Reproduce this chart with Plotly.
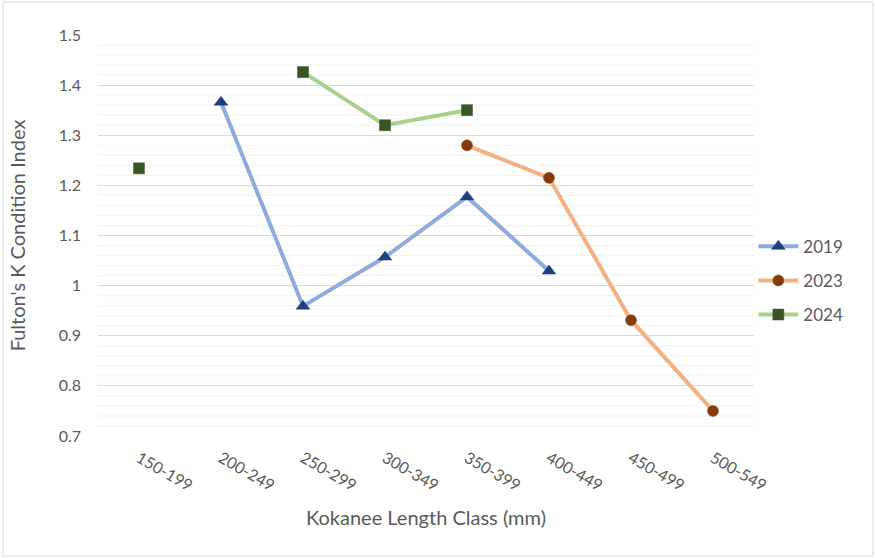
import plotly.graph_objects as go

# Length classes (mm) and Fulton's K by survey year
length_classes = ["150-199", "200-249", "250-299", "300-349",
                  "350-399", "400-449", "450-499", "500-549"]
k_2019 = [None, 1.366, 0.959, 1.057, 1.177, 1.029, None, None]
k_2023 = [None, None, None, None, 1.280, 1.215, 0.931, 0.750]
k_2024 = [1.234, None, 1.426, 1.320, 1.350, None, None, None]

FONT = "Lato, 'Open Sans', sans-serif"
TXT = "#595959"

fig = go.Figure()

series = [
    ("2019", k_2019, "#8FAADC", "#1F3F7F", "triangle-up", 12),
    ("2023", k_2023, "#F4B183", "#843C0C", "circle", 11),
    ("2024", k_2024, "#A9D18E", "#375623", "square", 11),
]
for name, vals, line_col, mark_col, symbol, size in series:
    fig.add_trace(go.Scatter(
        x=length_classes, y=vals, name=name, legendgroup=name,
        mode="lines+markers", connectgaps=False,
        line=dict(color=line_col, width=4),
        marker=dict(symbol=symbol, size=size, color=mark_col,
                    line=dict(color=mark_col, width=0.5)),
    ))

# minor gridlines every 0.02 drawn as shapes beneath the traces
for i in range(40):
    v = 0.7 + i * 0.02
    if i % 5 == 0:
        continue
    fig.add_shape(type="line", xref="paper", yref="y", x0=0, x1=1, y0=v, y1=v,
                  line=dict(color="#F0F0F0", width=1), layer="below")

# thin outer border around the chart
L, R, T, B = 98, 121, 35, 122
W, H = 875, 558
pw, ph = W - L - R, H - T - B
fig.add_shape(type="rect", xref="paper", yref="paper",
              x0=(3 - L) / pw, x1=(873 - L) / pw,
              y0=(H - 556 - B) / ph, y1=(H - 2 - B) / ph,
              line=dict(color="#D9D9D9", width=1), layer="below")

fig.update_layout(
    width=W, height=H,
    margin=dict(l=L, r=R, t=T, b=B),
    paper_bgcolor="white", plot_bgcolor="white",
    font=dict(family=FONT, color=TXT, size=16),
    showlegend=True,
    legend=dict(x=0.999, xanchor="left", y=0.387, yanchor="middle",
                font=dict(size=17, color=TXT), itemwidth=40,
                tracegroupgap=9, bgcolor="rgba(0,0,0,0)"),
    xaxis=dict(
        type="category", categoryorder="array", categoryarray=length_classes,
        range=[-0.5, len(length_classes) - 0.5],
        tickangle=30, tickfont=dict(size=16, color=TXT),
        ticklabelstandoff=9,
        showgrid=False, zeroline=False, showline=False, ticks="",
        title=dict(text="Kokanee Length Class (mm)", font=dict(size=20, color=TXT),
                   standoff=17),
    ),
    yaxis=dict(
        range=[0.7, 1.5], dtick=0.1, tick0=0.7,
        tickvals=[0.7, 0.8, 0.9, 1.0, 1.1, 1.2, 1.3, 1.4, 1.5],
        ticktext=["0.7", "0.8", "0.9", "1", "1.1", "1.2", "1.3", "1.4", "1.5"],
        tickfont=dict(size=16, color=TXT),
        ticklabelstandoff=16,
        showgrid=True, gridcolor="#D9D9D9", gridwidth=1,
        zeroline=False, showline=False, ticks="", ticklen=0,
        title=dict(text="Fulton's K Condition Index", font=dict(size=20, color=TXT),
                   standoff=27),
    ),
)

fig.write_html("out.html")
